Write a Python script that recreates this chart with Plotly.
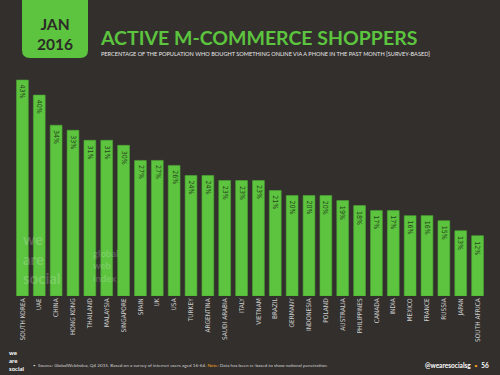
import plotly.graph_objects as go

countries = ["SOUTH KOREA", "UAE", "CHINA", "HONG KONG", "THAILAND", "MALAYSIA", "SINGAPORE",
             "SPAIN", "UK", "USA", "TURKEY", "ARGENTINA", "SAUDI ARABIA", "ITALY", "VIETNAM",
             "BRAZIL", "GERMANY", "INDONESIA", "POLAND", "AUSTRALIA", "PHILIPPINES", "CANADA",
             "INDIA", "MEXICO", "FRANCE", "RUSSIA", "JAPAN", "SOUTH AFRICA"]
values = [43, 40, 34, 33, 31, 31, 30, 27, 27, 26, 24, 24, 23, 23, 23, 21, 20, 20, 20, 19,
          18, 17, 17, 16, 16, 15, 13, 12]
labels = [f"{v}%" for v in values]

BG = "#332f2d"
GREEN = "#5cc43e"
DARK = "#2c2a28"

fig = go.Figure()
fig.add_trace(go.Bar(
    x=countries, y=values,
    marker=dict(color=GREEN, line=dict(color="#4da836", width=0.6)),
    hoverinfo="skip",
))

for c, v, t in zip(countries, values, labels):
    fig.add_annotation(x=c, y=v, text=t, textangle=90, showarrow=False, yanchor="top",
                       yshift=-3, font=dict(size=7, color="#284420", family="DejaVu Sans Condensed"))

W, H = 500.0, 375.0
pl, pr, pt, pb = 14, 14, 70, 79
pw, ph = W - pl - pr, H - pt - pb

fig.update_layout(
    width=500, height=375, paper_bgcolor=BG, plot_bgcolor=BG,
    margin=dict(l=pl, r=pr, t=pt, b=pb, autoexpand=False), bargap=0.3, showlegend=False,
    xaxis=dict(tickangle=-90, tickfont=dict(size=6.5, color="#cfcfcf", family="DejaVu Sans Condensed"),
               showgrid=False, zeroline=False, showline=False, ticks="", fixedrange=True,
               automargin=False),
    yaxis=dict(range=[0, 45], visible=False, fixedrange=True),
)

def px(x):
    return (x - pl) / pw
def py(y):
    return (H - pb - y) / ph

fig.add_shape(type="path", xref="paper", yref="paper",
              path=(f"M {px(22)} {py(-5)} L {px(88)} {py(-5)} L {px(88)} {py(50)} "
                    f"Q {px(88)} {py(58)} {px(80)} {py(58)} L {px(30)} {py(58)} "
                    f"Q {px(22)} {py(58)} {px(22)} {py(50)} Z"),
              fillcolor=GREEN, line=dict(width=0))

def ann(x, y, text, size, color, family="Lato", xanchor="left", yanchor="middle", **kw):
    fig.add_annotation(x=px(x), y=py(y), xref="paper", yref="paper", text=text, showarrow=False,
                       font=dict(size=size, color=color, family=family), xanchor=xanchor,
                       yanchor=yanchor, borderpad=0, **kw)

ann(55, 34, "<b>JAN<br>2016</b>", 15.5, DARK, xanchor="center", align="center")
ann(99, 37, "<b>ACTIVE M-COMMERCE SHOPPERS</b>", 19.5, GREEN)
ann(100, 53, "PERCENTAGE OF THE POPULATION WHO BOUGHT SOMETHING ONLINE VIA A PHONE IN THE PAST MONTH [SURVEY-BASED]",
    5.6, "#e8e8e8")

# faint watermark
ann(22, 258, "<b>we<br>are<br>social</b>", 15, "rgba(255,255,255,0.2)", align="left")
ann(92, 266, "<b>global<br>web<br>index</b>", 9.5, "rgba(255,255,255,0.2)", align="left")

# footer
ann(8, 360, "<b>we<br>are<br>social</b>", 6, "#ffffff", align="left")
ann(32, 365, "•  Source: GlobalWebIndex, Q4 2015. Based on a survey of internet users aged 16-64. "
    "<span style='color:#f0a020'>Note:</span> Data has been re-based to show national penetration.",
    4.6, "#cfcfcf")
ann(490, 365, "<b>@wearesocialsg</b>  <span style='color:#f0a020'>•</span>  <b>56</b>", 6.5, "#ffffff",
    xanchor="right")

fig.write_html("out.html", config={"displayModeBar": False},
               post_script="document.body.style.margin='0';document.body.style.overflow='hidden';")
